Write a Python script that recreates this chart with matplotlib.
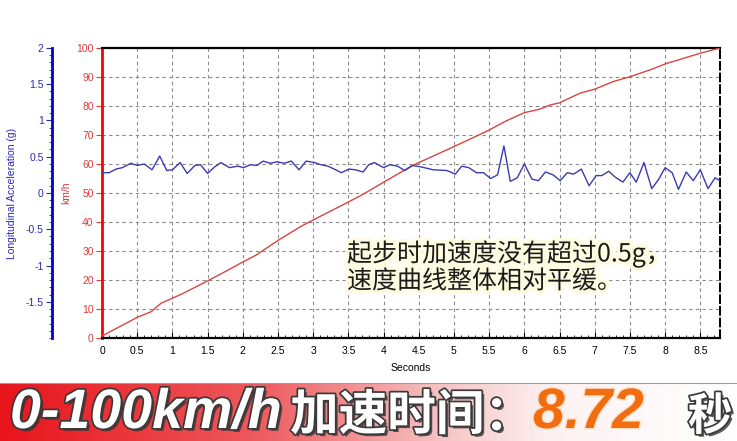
import numpy as np
import matplotlib
matplotlib.use("Agg")
import matplotlib.pyplot as plt
from matplotlib.ticker import MultipleLocator
import matplotlib.patheffects as pe
from matplotlib.colors import LinearSegmentedColormap

plt.rcParams['font.family'] = ['Liberation Sans', 'DejaVu Sans']

# speed trace (km/h)
t_speed = [0, 0.5, 0.7, 0.84, 1.0, 1.17, 1.5, 1.79, 2.0, 2.19,
           2.51, 2.82, 3.0, 3.51, 3.72, 4.0, 4.43, 5.0, 5.23, 5.5,
           5.72, 6.0, 6.22, 6.36, 6.5, 6.79, 7.0, 7.26, 7.5, 7.78,
           8.0, 8.5, 8.78]
speed = [0.7, 7.1, 9.1, 12.0, 13.7, 15.6, 19.7, 23.4, 26.2, 28.6,
         33.8, 38.4, 40.7, 47.0, 49.7, 53.7, 59.7, 66.0, 68.6, 71.7,
         74.6, 77.7, 78.9, 80.3, 81.1, 84.4, 85.8, 88.4, 90.1, 92.4,
         94.5, 98.2, 100]

# longitudinal acceleration (g)
t_acc = [0, 0.1, 0.2, 0.29, 0.41, 0.5, 0.6, 0.71, 0.82, 0.92,
         1.0, 1.11, 1.21, 1.32, 1.40, 1.50, 1.60, 1.69, 1.81, 1.93,
         2.01, 2.11, 2.20, 2.29, 2.39, 2.49, 2.59, 2.69, 2.80, 2.90,
         3.02, 3.11, 3.21, 3.30, 3.40, 3.51, 3.60, 3.71, 3.79, 3.87,
         4.0, 4.09, 4.20, 4.30, 4.41, 4.53, 4.71, 4.90, 5.02, 5.11,
         5.21, 5.32, 5.42, 5.52, 5.62, 5.71, 5.80, 5.90, 6.0, 6.11,
         6.20, 6.30, 6.41, 6.51, 6.61, 6.70, 6.81, 6.92, 7.02, 7.10,
         7.20, 7.29, 7.40, 7.50, 7.59, 7.70, 7.81, 7.91, 8.0, 8.10,
         8.19, 8.30, 8.40, 8.50, 8.61, 8.71, 8.78]
acc = [0.28, 0.28, 0.33, 0.35, 0.41, 0.38, 0.40, 0.32, 0.51, 0.31,
       0.32, 0.42, 0.27, 0.38, 0.39, 0.27, 0.36, 0.42, 0.35, 0.37,
       0.35, 0.39, 0.38, 0.44, 0.41, 0.43, 0.41, 0.44, 0.32, 0.44,
       0.42, 0.39, 0.37, 0.33, 0.28, 0.33, 0.32, 0.29, 0.39, 0.42,
       0.35, 0.39, 0.37, 0.31, 0.38, 0.36, 0.32, 0.31, 0.26, 0.37,
       0.35, 0.28, 0.28, 0.20, 0.25, 0.65, 0.16, 0.21, 0.40, 0.19,
       0.17, 0.29, 0.25, 0.17, 0.28, 0.26, 0.33, 0.10, 0.24, 0.24,
       0.30, 0.22, 0.15, 0.28, 0.15, 0.42, 0.06, 0.19, 0.35, 0.28,
       0.05, 0.29, 0.17, 0.32, 0.06, 0.21, 0.17]

x_ticks = [0, 0.5, 1, 1.5, 2, 2.5, 3, 3.5, 4, 4.5, 5, 5.5, 6, 6.5, 7, 7.5, 8, 8.5]
speed_ticks = [0, 10, 20, 30, 40, 50, 60, 70, 80, 90, 100]
acc_ticks = [-1.5, -1, -0.5, 0, 0.5, 1, 1.5, 2]

note = "起步时加速度没有超过0.5g，\n速度曲线整体相对平缓。"
W, H = 737, 441

fig = plt.figure(figsize=(W / 100, H / 100), dpi=100)
ax = fig.add_axes([102 / W, (H - 338) / H, 618 / W, 290 / H])

ax.plot(t_speed, speed, color='#d64541', lw=1.0, zorder=3)
ax.set_xlim(0, 8.78)
ax.set_ylim(0, 100)
ax.set_xticks(x_ticks)
ax.set_xticklabels([f"{v:g}" for v in x_ticks])
ax.xaxis.set_minor_locator(MultipleLocator(0.1))
ax.set_yticks(speed_ticks)
ax.grid(True, ls=(0, (3, 3)), color='#8a8a8a', lw=0.8)
ax.tick_params(axis='x', which='both', direction='in', labelsize=7.5, pad=6)
ax.tick_params(axis='x', which='major', length=4)
ax.tick_params(axis='x', which='minor', length=2)
ax.tick_params(axis='y', colors='#e03a3a', labelsize=7.5, length=4, pad=2)
ax.spines['left'].set_color('#ff0000')
ax.spines['left'].set_linewidth(2)
ax.spines['bottom'].set_linewidth(1.6)
ax.spines['top'].set_linewidth(1.6)
ax.spines['right'].set_linestyle((0, (4, 2)))
ax.spines['right'].set_linewidth(1.4)
ax.set_xlabel('Seconds', fontsize=7.5, labelpad=5)
ax.set_ylabel('km/h', color='#d63c3c', fontsize=7.5)
ax.yaxis.set_label_coords(-0.05, 0.5)

ax2 = ax.twinx()
ax2.plot(t_acc, acc, color='#3b3bb3', lw=1.0, zorder=3)
ax2.set_ylim(-2, 2)
ax2.yaxis.tick_left()
ax2.yaxis.set_label_position('left')
ax2.set_yticks(acc_ticks)
ax2.set_yticklabels([f"{v:g}" for v in acc_ticks])
ax2.yaxis.set_minor_locator(MultipleLocator(0.1))
for s in ['right', 'top', 'bottom']:
    ax2.spines[s].set_visible(False)
ax2.spines['left'].set_position(('outward', 36))
ax2.spines['left'].set_color('#0000cc')
ax2.spines['left'].set_linewidth(2)
ax2.tick_params(axis='y', which='both', colors='#2a2ab0', labelsize=7.5, pad=2)
ax2.tick_params(axis='y', which='major', length=4)
ax2.tick_params(axis='y', which='minor', length=2)
ax2.set_ylabel('Longitudinal Acceleration (g)', color='#2a2ab0', fontsize=7.5)
ax2.yaxis.set_label_coords(-0.138, 0.5)

# annotation
fig.text(347 / W, 1 - 240 / H, note, fontsize=18, color='#1a1a1a', va='top',
         linespacing=1.05, family=['Noto Sans CJK SC', 'DejaVu Sans'],
         path_effects=[pe.withStroke(linewidth=5, foreground='#fffbe0')])

# bottom banner
bax = fig.add_axes([0, 0, 1, 58 / H])
cmap = LinearSegmentedColormap.from_list('band', [(0, '#e8141b'), (0.35, '#ee5a5e'),
                                                  (0.6, '#f6c4c4'), (0.75, '#fdf2f2'),
                                                  (1, '#ffffff')])
grad = np.linspace(0, 1, 256).reshape(1, -1)
bax.imshow(grad, cmap=cmap, aspect='auto', extent=[0, 1, 0, 1])
bax.axhline(1, color='#9a9a9a', lw=1.5)
bax.set_xlim(0, 1)
bax.set_ylim(0, 1)
bax.axis('off')

shadow = [pe.withSimplePatchShadow(offset=(2, -2), shadow_rgbFace='#333333', alpha=0.8),
          pe.withStroke(linewidth=2.5, foreground='#3a3a3a')]
base_y = 1 / H
fig.text(10 / W, base_y, '0-100km/h', fontsize=40, color='white', weight='bold',
         style='italic', va='bottom', path_effects=shadow)
fig.text(290 / W, base_y, '加速时间：', fontsize=35, color='white', weight='bold',
         va='bottom', family=['Noto Sans CJK SC', 'DejaVu Sans'], path_effects=shadow)
fig.text(533 / W, base_y, '8.72', fontsize=41, color='#f26c10', weight='bold',
         style='italic', va='bottom',
         path_effects=[pe.withStroke(linewidth=2, foreground='#ffe0c8')])
fig.text(688 / W, base_y, '秒', fontsize=32, color='white', weight='bold',
         va='bottom', family=['Noto Sans CJK SC', 'DejaVu Sans'], path_effects=shadow)

fig.savefig('out.png', dpi=100)
